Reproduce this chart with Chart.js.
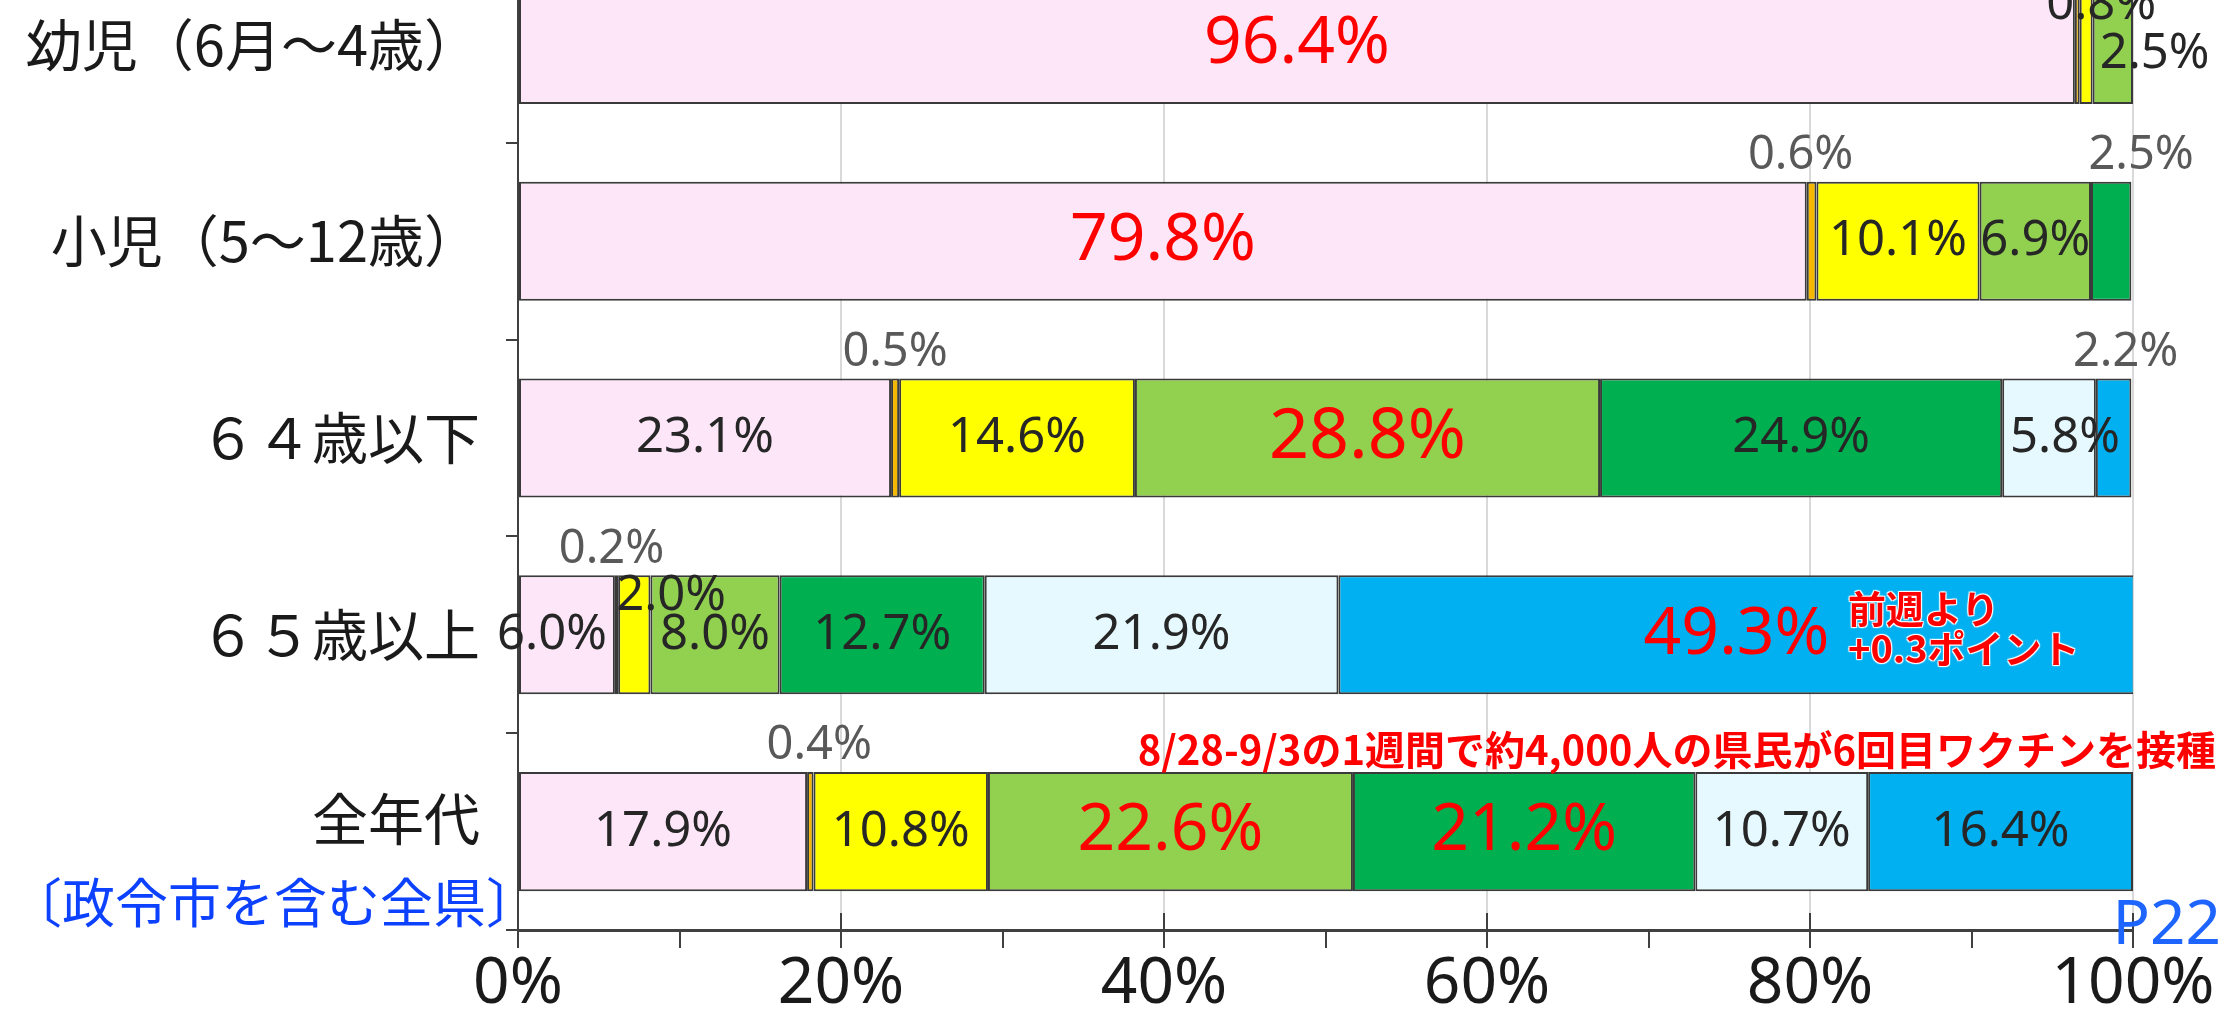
<!DOCTYPE html>
<html lang="ja">
<head>
<meta charset="utf-8">
<title>年代別 ワクチン接種回数の割合</title>
<script src="https://cdn.jsdelivr.net/npm/chart.js@4.4.1/dist/chart.umd.min.js"></script>
<style>
  html, body { margin: 0; padding: 0; background: #fff; overflow: hidden; }
  #wrap { position: relative; width: 2234px; height: 1024px; overflow: hidden; }
  #chart { position: absolute; left: 0; top: -54px; }
  .note { position: absolute; white-space: nowrap; line-height: 1; font-family: "Noto Sans CJK JP", sans-serif; }
  #area { left: 9px; top: 874px; font-size: 53px; color: #0b41ff; }
  #page { right: 13px; top: 889px; font-size: 62px; color: #1e64ff; font-family: "Noto Sans", sans-serif; }
  #weekly { right: 18px; top: 728px; font-size: 40px; font-weight: bold; color: #ff0000; }
  #diff { left: 1848px; top: 587px; font-size: 38px; line-height: 40px; font-weight: bold; color: #ff0000;
          text-shadow: 1px 1px 1px #fff, -1px -1px 1px #fff, 1px -1px 1px #fff, -1px 1px 1px #fff; }
</style>
</head>
<body>
<div id="wrap">
  <canvas id="chart" width="2234" height="1078"></canvas>
  <div class="note" id="area">〔政令市を含む全県〕</div>
  <div class="note" id="page">P22</div>
  <div class="note" id="weekly">8/28-9/3の1週間で約4,000人の県民が6回目ワクチンを接種</div>
  <div class="note" id="diff">前週より<br>+0.3ポイント</div>
</div>
<script>
// 年代別の接種回数の割合 (%)
const categories = ["幼児（6月～4歳）", "小児（5～12歳）", "６４歳以下", "６５歳以上", "全年代"];
const seriesNames = ["未接種", "1回接種", "2回接種", "3回接種", "4回接種", "5回接種", "6回接種"];
const dose0 = [96.4, 79.8, 23.1, 6.0, 17.9];
const dose1 = [0.3, 0.6, 0.5, 0.2, 0.4];
const dose2 = [0.8, 10.1, 14.6, 2.0, 10.8];
const dose3 = [2.5, 6.9, 28.8, 8.0, 22.6];
const dose4 = [null, 2.5, 24.9, 12.7, 21.2];
const dose5 = [null, null, 5.8, 21.9, 10.7];
const dose6 = [null, null, 2.2, 49.3, 16.4];
const xTickValues = [0, 20, 40, 60, 80, 100];

const colors = ["#fce6f8", "#f5b800", "#ffff00", "#92d050", "#00b050", "#e6f9fe", "#00b0f0"];

// label styling: key = row-series
const bigRed = new Set(["0-0", "1-0", "2-3", "3-6", "4-3", "4-4"]);
const hidden = new Set(["0-1"]);
const placement = {
  "0-2": { mode: "top", dx: 15, dy: 20 },
  "0-3": { mode: "start", dx: 7, dy: 10 },
  "1-1": { mode: "above", dx: -11 },
  "1-4": { mode: "above", dx: 30 },
  "2-1": { mode: "above", dx: 0 },
  "2-5": { mode: "center", dx: 16 },
  "2-6": { mode: "above", dx: 12 },
  "3-0": { mode: "end", dx: -8 },
  "3-1": { mode: "above", dx: -5 },
  "3-2": { mode: "startTop", dx: -2, dy: 21 },
  "4-1": { mode: "above", dx: 9 }
};

const numFont = '"Noto Sans", "Noto Sans CJK JP", sans-serif';

const segmentLabels = {
  id: "segmentLabels",
  afterDatasetsDraw(chart) {
    const ctx = chart.ctx;
    ctx.save();
    ctx.textBaseline = "middle";
    chart.data.datasets.forEach((ds, si) => {
      chart.getDatasetMeta(si).data.forEach((bar, ri) => {
        const v = ds.data[ri];
        const key = ri + "-" + si;
        if (v == null || hidden.has(key)) return;
        const { x, y, base, height } = bar.getProps(["x", "y", "base", "height"], true);
        const top = y - height / 2;
        const mid = (x + base) / 2;
        const p = placement[key] || { mode: "center" };
        const dx = p.dx || 0, dy = p.dy || 0;
        let tx = mid + dx, ty = y + dy, align = "center";
        let color = "#262626", size = 49;
        if (p.mode === "above") { ty = top - 26; color = "#595959"; size = 47; }
        else if (p.mode === "top") { ty = top + dy; }
        else if (p.mode === "start") { tx = base + dx; align = "left"; }
        else if (p.mode === "startTop") { tx = base + dx; ty = top + dy; align = "left"; }
        else if (p.mode === "end") { tx = x + dx; align = "right"; }
        if (bigRed.has(key)) { color = "#ff0000"; size = key === "2-3" ? 70 : 66; }
        ctx.font = size + "px " + numFont;
        ctx.fillStyle = color;
        ctx.textAlign = align;
        ctx.fillText(v.toFixed(1) + "%", tx, ty);
      });
    });
    ctx.restore();
  }
};

// major x ticks also poke a little above the axis line
const majorTicks = {
  id: "majorTicks",
  afterDraw(chart) {
    const { ctx, scales: { x }, chartArea } = chart;
    ctx.save();
    ctx.strokeStyle = "#404040";
    ctx.lineWidth = 2;
    xTickValues.slice(1).forEach((v) => {
      const px = Math.round(x.getPixelForValue(v));
      ctx.beginPath();
      ctx.moveTo(px, chartArea.bottom - 17);
      ctx.lineTo(px, chartArea.bottom);
      ctx.stroke();
    });
    ctx.restore();
  }
};

const seriesData = [dose0, dose1, dose2, dose3, dose4, dose5, dose6];

new Chart(document.getElementById("chart"), {
  type: "bar",
  data: {
    labels: categories,
    datasets: seriesData.map((d, i) => ({
      label: seriesNames[i],
      data: d,
      backgroundColor: colors[i],
      borderColor: "#3a3a3a",
      borderWidth: 2,
      borderSkipped: false,
      barPercentage: 0.605,
      categoryPercentage: 1.0
    }))
  },
  options: {
    indexAxis: "y",
    responsive: false,
    animation: false,
    layout: { padding: { left: 0, top: 0, right: 101, bottom: 0 } },
    plugins: { legend: { display: false }, tooltip: { enabled: false } },
    scales: {
      x: {
        stacked: true,
        min: 0,
        max: 100,
        ticks: {
          stepSize: 10,
          autoSkip: false,
          maxRotation: 0,
          padding: 5,
          color: "#1a1a1a",
          font: { family: numFont, size: 64, lineHeight: 1 },
          callback: (v) => (xTickValues.includes(v) ? v + "%" : "")
        },
        grid: {
          color: (c) => (c.tick && c.tick.value % 20 === 0 && c.tick.value > 0 ? "#d9d9d9" : "rgba(0,0,0,0)"),
          lineWidth: 2,
          tickColor: "#404040",
          tickWidth: 2,
          tickLength: 18
        },
        border: { color: "#404040", width: 3 },
        afterFit: (s) => { s.height = 94; s.paddingLeft = 0; s.paddingRight = 0; }
      },
      y: {
        stacked: true,
        grid: { offset: true, drawOnChartArea: false, tickLength: 12, tickColor: "#404040", lineWidth: 2 },
        border: { color: "#404040", width: 2 },
        ticks: {
          color: "#1a1a1a",
          padding: 26,
          font: (c) => ({ family: '"Noto Sans CJK JP", sans-serif', size: 56, lineHeight: c.index === 4 ? 0.45 : 1.2 }),
          callback: (v, i) => (i === 4 ? [categories[i], ""] : categories[i])
        },
        afterFit: (s) => { s.width = 518; s.paddingTop = 0; s.paddingBottom = 0; }
      }
    }
  },
  plugins: [segmentLabels, majorTicks]
});
</script>
</body>
</html>
